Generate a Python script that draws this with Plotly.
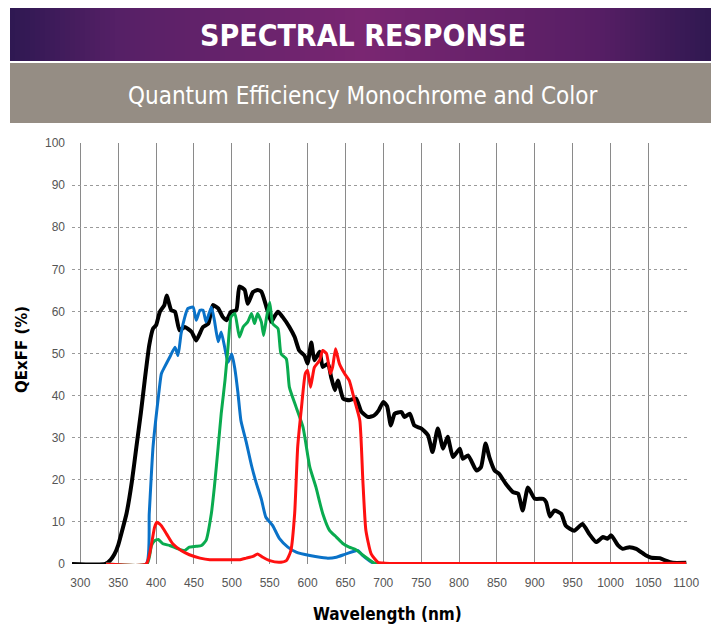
import plotly.graph_objects as go

# ---------------- data ----------------
black_x = [289, 333, 340, 345, 350, 355, 361, 368, 374, 380, 385, 391, 396, 400, 405, 411, 414, 420, 425, 431,
           438, 447, 453, 462, 469, 475, 482, 488, 493, 499, 506, 510, 517, 521, 528, 534, 539, 545, 552, 556,
           561, 567, 576, 583, 589, 596, 600, 605, 609, 616, 620, 627, 631, 636, 640, 647, 655, 664, 671, 680,
           688, 694, 700, 705, 710, 715, 724, 728, 735, 741, 750, 759, 765, 772, 779, 785, 792, 801, 805, 812,
           823, 829, 835, 840, 847, 853, 862, 871, 878, 884, 891, 900, 911, 915, 920, 926, 935, 941, 952, 963,
           972, 981, 990, 996, 1001, 1010, 1016, 1025, 1034, 1047, 1054, 1065, 1073, 1082, 1100]
black_y = [0, 0, 1, 2.3, 4.5, 7.8, 12, 19.5, 27.8, 36, 43.6, 52, 55.9, 56.7, 59.9, 61.5, 63.8, 60.3, 59.9, 55.5,
           56.3, 55.1, 53.1, 56.3, 57.1, 61.5, 60.7, 58.7, 57.9, 59.9, 60.3, 65.9, 65.1, 61.8, 64.6, 65.1, 64.7, 61.5, 57.5, 58.7,
           59.9, 58.7, 56.3, 53.9, 50.7, 49.5, 47.6, 52.6, 48.4, 50.4, 46.8, 47.6, 44.5, 41.3, 43.6, 39.3, 38.9, 39.3, 36.2, 34.9,
           35.3, 36.5, 38.5, 37.5, 32.9, 35.7, 36.1, 34.9, 35.7, 32.9, 32.2, 30.6, 26.6, 32.2, 27.4, 30.2, 25.4, 27.4, 25.0, 25.8,
           22.2, 23.0, 28.6, 25.4, 22.2, 21.4, 19.0, 17.1, 16.7, 12.7, 18.2, 15.5, 15.5, 14.7, 11.3, 12.7, 11.9, 9.1, 7.9, 9.5,
           7.1, 5.2, 6.4, 6.0, 6.8, 4.4, 3.6, 4.0, 3.6, 2.0, 1.5, 1.4, 0.8, 0.3, 0.3]

blue_x = [334, 387, 391, 396, 403, 407, 411, 418, 425, 429, 433, 438, 442, 449, 453, 458, 462, 466, 473, 477,
          482, 486, 491, 495, 500, 504, 508, 512, 519, 526, 532, 539, 545, 554, 563, 574, 585, 603, 625, 638,
          651, 666, 673, 684, 691, 1100]
blue_y = [0, 0, 12, 27.8, 39.6, 45.2, 46.7, 49.1, 51.5, 49.5, 54.7, 58.7, 60.7, 61.0, 57.9, 60.3, 60.3, 57.5, 61.0, 57.9,
          52.8, 55.1, 51.1, 47.9, 49.9, 46.4, 40.8, 34.1, 29.0, 23.4, 19.4, 15.4, 11.1, 9.1, 6.0, 4.0, 2.8, 2.0, 1.4, 1.6,
          2.4, 3.2, 2.0, 0.5, 0, 0]

green_x = [334, 388, 394, 398, 403, 409, 418, 429, 438, 444, 453, 460, 466, 473, 477, 482, 486, 491, 495, 499,
           504, 510, 515, 521, 526, 530, 534, 539, 542, 546, 550, 554, 561, 565, 572, 576, 585, 594, 603, 611,
           620, 629, 638, 647, 655, 664, 671, 680, 688, 695, 1100]
green_y = [0, 0, 4.4, 5.5, 5.8, 4.8, 4.4, 3.6, 3.2, 4.0, 4.2, 4.4, 5.6, 12.0, 18.3, 27.8, 35.7, 43.6, 51.5, 58.7,
           59.5, 53.9, 56.3, 57.5, 59.5, 57.1, 59.5, 57.5, 54.3, 58.7, 62.2, 57.1, 55.9, 49.9, 48.7, 42.0, 37.2, 32.5, 23.0, 18.3,
           12.0, 8.0, 6.4, 4.8, 4.0, 3.4, 2.4, 1.2, 0.2, 0, 0]

red_x = [334, 387, 394, 398, 401, 407, 414, 422, 433, 444, 458, 471, 484, 497, 510, 519, 528, 534, 541, 550,
         563, 572, 578, 583, 587, 592, 597, 600, 604, 609, 616, 620, 625, 630, 633, 637, 642, 649, 655, 662,
         669, 673, 677, 684, 693, 702, 1100]
red_y = [0, 0, 4.8, 8.7, 9.9, 9.1, 7.1, 4.8, 3.2, 2.2, 1.4, 1.0, 1.0, 1.0, 1.0, 1.4, 1.8, 2.4, 1.6, 0.8,
         0.4, 0.8, 3.2, 12.0, 27.8, 37.2, 45.2, 46.0, 42.0, 46.7, 48.4, 50.7, 50.0, 45.2, 46.7, 51.1, 47.6, 45.2, 43.6, 38.9,
         34.1, 19.9, 8.0, 2.4, 0.4, 0.2, 0.2]

x_ticks = list(range(300, 1101, 50))
y_ticks = list(range(0, 101, 10))

title_text = "SPECTRAL RESPONSE"
subtitle_text = "Quantum Efficiency Monochrome and Color"
x_title = "Wavelength (nm)"
y_title = "QExFF (%)"

# ---------------- layout geometry (pixels, page coords; page body has 8px margin) ----------------
OFF = 8
W, H = 719 - OFF, 636 - OFF
L, R, T, B = 72 - OFF, 687 - OFF, 143 - OFF, 564 - OFF


def px(xp):
    return (xp - OFF - L) / (R - L)


def py(yp):
    return (B - (yp - OFF)) / (B - T)


fig = go.Figure()
series = [
    (black_x, black_y, "#000000", 4),
    (blue_x, blue_y, "#0a72c8", 3),
    (green_x, green_y, "#0aab4f", 3),
    (red_x, red_y, "#ff1010", 3),
]
for xs, ys, c, w in series:
    fig.add_trace(go.Scatter(x=xs, y=ys, mode="lines",
                             line=dict(color=c, width=w, shape="spline", smoothing=0.5),
                             hoverinfo="skip", showlegend=False, cliponaxis=True))

shapes = []
stops = [(10, (46, 24, 82)), (120, (86, 32, 102)), (363, (122, 38, 114)), (600, (86, 30, 100)), (715, (46, 24, 80))]


def col_at(xp):
    for (x0, c0), (x1, c1) in zip(stops[:-1], stops[1:]):
        if x0 <= xp <= x1:
            t = (xp - x0) / (x1 - x0)
            return tuple(int(round(a + (b - a) * t)) for a, b in zip(c0, c1))
    return stops[-1][1]


n = 141
for i in range(n):
    x0 = 10 + (715 - 10) * i / n
    x1 = 10 + (715 - 10) * (i + 1) / n
    c = col_at((x0 + x1) / 2)
    shapes.append(dict(type="rect", xref="paper", yref="paper", x0=px(x0), x1=px(x1 + 0.6),
                       y0=py(61), y1=py(6), line=dict(width=0), fillcolor="rgb(%d,%d,%d)" % c, layer="below"))
shapes.append(dict(type="rect", xref="paper", yref="paper", x0=px(10), x1=px(715),
                   y0=py(123), y1=py(63), line=dict(width=0), fillcolor="#958d84", layer="below"))
fig.update_layout(shapes=shapes)

annotations = [
    dict(text="<b>" + title_text + "</b>", x=px(363), y=py(35), xref="paper", yref="paper",
         showarrow=False, font=dict(family="DejaVu Sans Condensed, DejaVu Sans", size=30, color="white"),
         xanchor="center", yanchor="middle"),
    dict(text=subtitle_text, x=px(363), y=py(96), xref="paper", yref="paper",
         showarrow=False, font=dict(family="DejaVu Sans Condensed, DejaVu Sans", size=24, color="white"),
         xanchor="center", yanchor="middle"),
    dict(text="<b>" + x_title + "</b>", x=px(387), y=py(614), xref="paper", yref="paper",
         showarrow=False, font=dict(family="DejaVu Sans Condensed, DejaVu Sans", size=17, color="black"),
         xanchor="center", yanchor="middle"),
    dict(text="<b>" + y_title + "</b>", x=px(22), y=py(350), xref="paper", yref="paper", textangle=-90,
         showarrow=False, font=dict(family="DejaVu Sans, Arial", size=15, color="black"),
         xanchor="center", yanchor="middle"),
]
fig.update_layout(annotations=annotations)

fig.update_xaxes(range=[289, 1101], tickmode="array", tickvals=x_ticks, ticktext=[str(v) for v in x_ticks],
                 showgrid=True, gridcolor="#8a8a8a", gridwidth=1, zeroline=False, showline=False,
                 ticks="", ticklabelstandoff=10,
                 tickfont=dict(family="Arial, Liberation Sans", size=12, color="#555555"))
fig.update_yaxes(range=[0, 100], tickmode="array", tickvals=y_ticks, ticktext=[str(v) for v in y_ticks],
                 showgrid=True, gridcolor="#9a9a9a", gridwidth=1, griddash="dot", zeroline=False, showline=False,
                 ticks="", ticklabelstandoff=6,
                 tickfont=dict(family="Arial, Liberation Sans", size=12, color="#555555"))

fig.update_layout(width=W, height=H, margin=dict(l=L, r=W - R, t=T, b=H - B),
                  paper_bgcolor="white", plot_bgcolor="white", showlegend=False)

fig.write_html("out.html")
